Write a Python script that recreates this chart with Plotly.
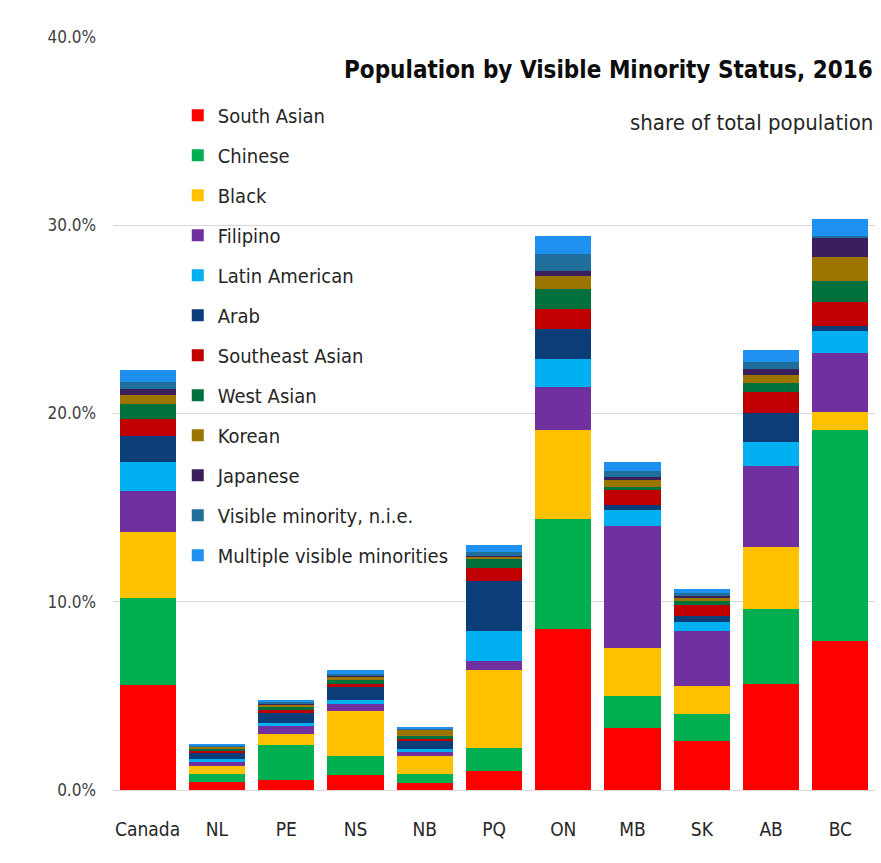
import plotly.graph_objects as go

regions = ["Canada", "NL", "PE", "NS", "NB", "PQ", "ON", "MB", "SK", "AB", "BC"]

groups = ["South Asian", "Chinese", "Black", "Filipino", "Latin American", "Arab",
          "Southeast Asian", "West Asian", "Korean", "Japanese",
          "Visible minority, n.i.e.", "Multiple visible minorities"]

colors = ["#FF0000", "#00B050", "#FFC000", "#7030A0", "#00B0F0", "#0B3D78",
          "#C00000", "#00703C", "#9C7400", "#3B1E5C", "#1F6F9A", "#1E90F0"]

# share of total population (%), one list per group, in region order
south_asian = [5.6, 0.45, 0.55, 0.8, 0.35, 1.0, 8.55, 3.3, 2.6, 5.65, 7.9]
chinese = [4.6, 0.4, 1.85, 1.0, 0.5, 1.25, 5.85, 1.7, 1.42, 3.95, 11.2]
black = [3.5, 0.45, 0.6, 2.4, 0.95, 4.1, 4.75, 2.55, 1.5, 3.3, 1.0]
filipino = [2.2, 0.2, 0.4, 0.35, 0.2, 0.5, 2.25, 6.5, 2.9, 4.3, 3.1]
latin_american = [1.5, 0.15, 0.15, 0.25, 0.2, 1.6, 1.5, 0.8, 0.53, 1.3, 1.2]
arab = [1.4, 0.35, 0.55, 0.65, 0.4, 2.65, 1.6, 0.27, 0.27, 1.55, 0.25]
southeast_asian = [0.9, 0.1, 0.15, 0.2, 0.15, 0.7, 1.05, 0.8, 0.62, 1.1, 1.25]
west_asian = [0.8, 0.1, 0.15, 0.2, 0.1, 0.5, 1.05, 0.2, 0.18, 0.45, 1.15]
korean = [0.5, 0.1, 0.15, 0.2, 0.35, 0.1, 0.7, 0.35, 0.18, 0.45, 1.25]
japanese = [0.3, 0.02, 0.05, 0.05, 0.02, 0.05, 0.27, 0.18, 0.1, 0.3, 1.0]
nie = [0.4, 0.02, 0.05, 0.05, 0.05, 0.2, 0.9, 0.27, 0.18, 0.4, 0.15]
multiple = [0.6, 0.1, 0.15, 0.2, 0.1, 0.35, 0.95, 0.48, 0.21, 0.6, 0.9]

series = [south_asian, chinese, black, filipino, latin_american, arab,
          southeast_asian, west_asian, korean, japanese, nie, multiple]

y_ticks = [0, 10, 20, 30, 40]
y_tick_labels = ["0.0%", "10.0%", "20.0%", "30.0%", "40.0%"]

FONT = "DejaVu Sans Condensed, Liberation Sans Narrow, sans-serif"

fig = go.Figure()
for i, (name, vals, col) in enumerate(zip(groups, series, colors)):
    fig.add_trace(go.Bar(
        x=regions, y=vals, name=name, marker=dict(color=col, line=dict(width=0)),
        legendgroup=f"g{i}",
    ))

fig.update_layout(
    barmode="stack",
    bargap=0.19,
    width=881, height=863,
    margin=dict(l=113, r=6, t=37, b=73),
    paper_bgcolor="white", plot_bgcolor="white",
    font=dict(family=FONT, color="#404040"),
    legend=dict(
        x=0.085, y=0.922, xanchor="left", yanchor="top",
        traceorder="grouped", tracegroupgap=11,
        font=dict(size=20, family=FONT, color="#262626"),
        bgcolor="rgba(0,0,0,0)", itemwidth=30,
    ),
    xaxis=dict(
        tickfont=dict(size=19, family=FONT, color="#262626"),
        showline=True, linecolor="#D9D9D9", linewidth=1,
        ticks="", ticklabelstandoff=22,
    ),
    yaxis=dict(
        range=[0, 40], tickvals=y_ticks, ticktext=y_tick_labels,
        tickfont=dict(size=17, family=FONT, color="#404040"),
        showgrid=True, gridcolor="#D9D9D9", gridwidth=1,
        zeroline=False, ticks="", ticklabelstandoff=16,
    ),
    annotations=[
        dict(text="<b>Population by Visible Minority Status, 2016</b>",
             xref="paper", yref="paper", x=1.0, y=0.956,
             xanchor="right", yanchor="middle", showarrow=False,
             font=dict(size=24, family=FONT, color="#0D0D0D")),
        dict(text="share of total population",
             xref="paper", yref="paper", x=1.0, y=0.887,
             xanchor="right", yanchor="middle", showarrow=False,
             font=dict(size=22, family=FONT, color="#262626")),
    ],
)

fig.write_html("out.html")
